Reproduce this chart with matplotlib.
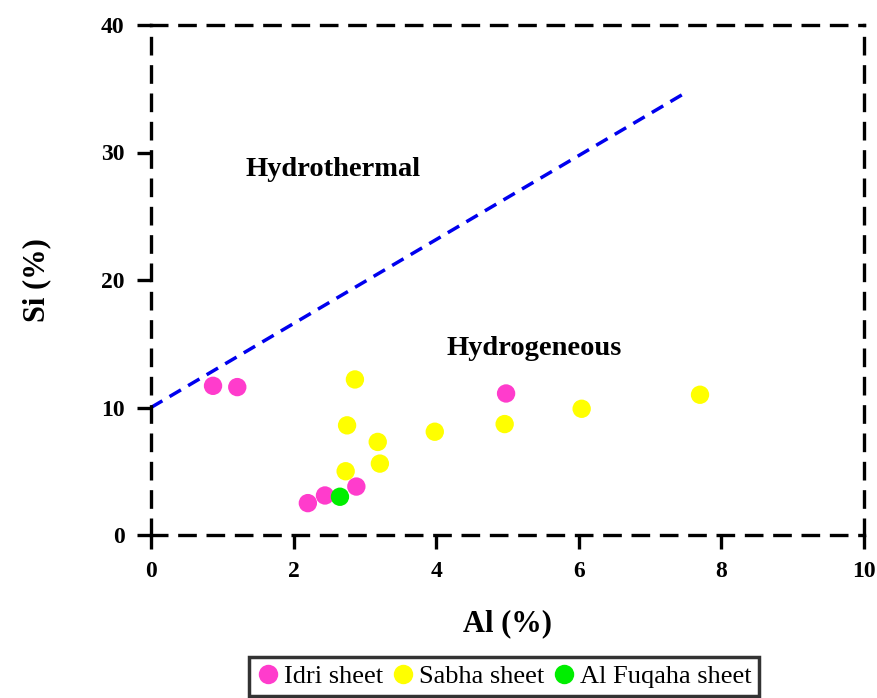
import matplotlib

matplotlib.use("Agg")
import matplotlib.pyplot as plt
from matplotlib.lines import Line2D

plt.rcParams.update({
    "font.family": ["Liberation Serif", "DejaVu Serif"],
    "font.weight": "bold",
})

# Al / Si content (%) per sheet
idri_al = [0.87, 1.21, 4.98, 2.20, 2.44, 2.88]
idri_si = [11.7, 11.6, 11.1, 2.5, 3.1, 3.8]
sabha_al = [2.86, 2.75, 3.18, 2.73, 3.21, 3.98, 4.96, 6.04, 7.70]
sabha_si = [12.2, 8.6, 7.3, 5.0, 5.6, 8.1, 8.7, 9.9, 11.0]
fuqaha_al = [2.65]
fuqaha_si = [3.0]

# boundary between hydrothermal and hydrogeneous fields
bound_al = [0.0, 7.5]
bound_si = [10.0, 34.7]

fig = plt.figure(figsize=(8.78, 6.98), dpi=100)
ax = fig.add_axes([151 / 878, 1 - 535 / 698, 713 / 878, 510 / 698])

ax.plot(bound_al, bound_si, color="#0000ee", linewidth=2.5,
        linestyle=(0, (3.8, 2.4)), zorder=2)

groups = [
    (idri_al, idri_si, "#ff3ccc", "Idri sheet"),
    (sabha_al, sabha_si, "#ffff00", "Sabha sheet"),
    (fuqaha_al, fuqaha_si, "#00ee00", "Al Fuqaha sheet"),
]
for xs, ys, col, lab in groups:
    ax.scatter(xs, ys, s=175, color=col, edgecolors="none", zorder=3, clip_on=False)

ax.text(2.56, 28.7, "Hydrothermal", ha="center", va="center", fontsize=20.5, fontweight="bold")
ax.text(5.37, 14.6, "Hydrogeneous", ha="center", va="center", fontsize=20.5, fontweight="bold")

ax.set_xlim(0, 10)
ax.set_ylim(0, 40)
ax.set_xticks(range(0, 11, 2))
ax.set_yticks(range(0, 41, 10))
ax.tick_params(direction="out", length=10, width=2.4, labelsize=17, pad=9)
for lab in ax.get_xticklabels() + ax.get_yticklabels():
    lab.set_fontweight("bold")

for s in ax.spines.values():
    s.set_linewidth(2.4)
    s.set_linestyle((0, (4.6, 3.9)))

ax.set_xlabel("Al (%)", fontsize=22, fontweight="bold", labelpad=19)
ax.set_ylabel("Si (%)", fontsize=22, fontweight="bold", labelpad=36)

handles = [Line2D([], [], marker="o", linestyle="none", markersize=14,
                  markerfacecolor=col, markeredgecolor="none", label=lab)
           for _, _, col, lab in groups]
leg = fig.legend(handles=handles, loc="upper center", bbox_to_anchor=(504 / 878, 1 - 657 / 698),
                 ncol=3, frameon=True, fancybox=False, edgecolor="black",
                 prop={"family": "Liberation Serif", "weight": "normal", "size": 19},
                 handletextpad=0.15, columnspacing=0.3, handlelength=0.9,
                 borderpad=0.3, borderaxespad=0)
leg.get_frame().set_linewidth(2.5)

fig.savefig("out.png", dpi=100)
